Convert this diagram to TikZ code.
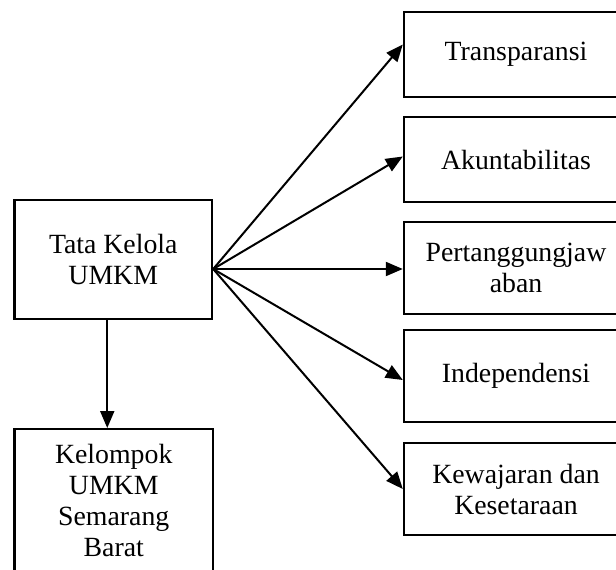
\documentclass[tikz,border=0pt]{standalone}
\usepackage{fontspec}
\setmainfont{Liberation Serif}
\usetikzlibrary{arrows.meta}
\begin{document}
\begin{tikzpicture}[x=1pt,y=-1pt,
  box/.style={draw=black,line width=2.4pt,rectangle,inner sep=0pt,align=center,
    font=\fontsize{27.8}{31}\selectfont},
  conn/.style={line width=2pt,-{Triangle[length=17pt,width=14pt]}}]
\useasboundingbox (0,0) rectangle (616,570);
\node[box,minimum width=197.5pt,minimum height=119pt] (tk) at (113.25,259.5) {Tata Kelola\\UMKM};
\node[box,anchor=north,minimum width=198.5pt,inner ysep=15pt,text width=190pt] (kel) at (113.75,428) {Kelompok\\UMKM\\Semarang\\Barat\\[8pt]};
\node[box,minimum width=224pt,minimum height=85pt] (t1) at (516,54.5) {Transparansi};
\node[box,minimum width=224pt,minimum height=85pt] (t2) at (516,159.5) {Akuntabilitas};
\node[box,minimum width=224pt,minimum height=92pt] (t3) at (516,268) {Pertanggungjaw\\aban};
\node[box,minimum width=224pt,minimum height=92pt] (t4) at (516,376) {Independensi};
\node[box,minimum width=224pt,minimum height=92pt] (t5) at (516,489) {Kewajaran dan\\Kesetaraan};
\coordinate (o) at ([yshift=-9.5pt]tk.east);
\draw[conn] (o) -- ([yshift=10pt]t1.west);
\draw[conn] (o) -- ([yshift=3pt]t2.west);
\draw[conn] (o) -- ([yshift=-1pt]t3.west);
\draw[conn] (o) -- ([yshift=-4pt]t4.west);
\draw[conn] (o) -- (t5.west);
\draw[conn] ([xshift=-6pt]tk.south) -- ([xshift=-6.5pt]kel.north);
\end{tikzpicture}
\end{document}
